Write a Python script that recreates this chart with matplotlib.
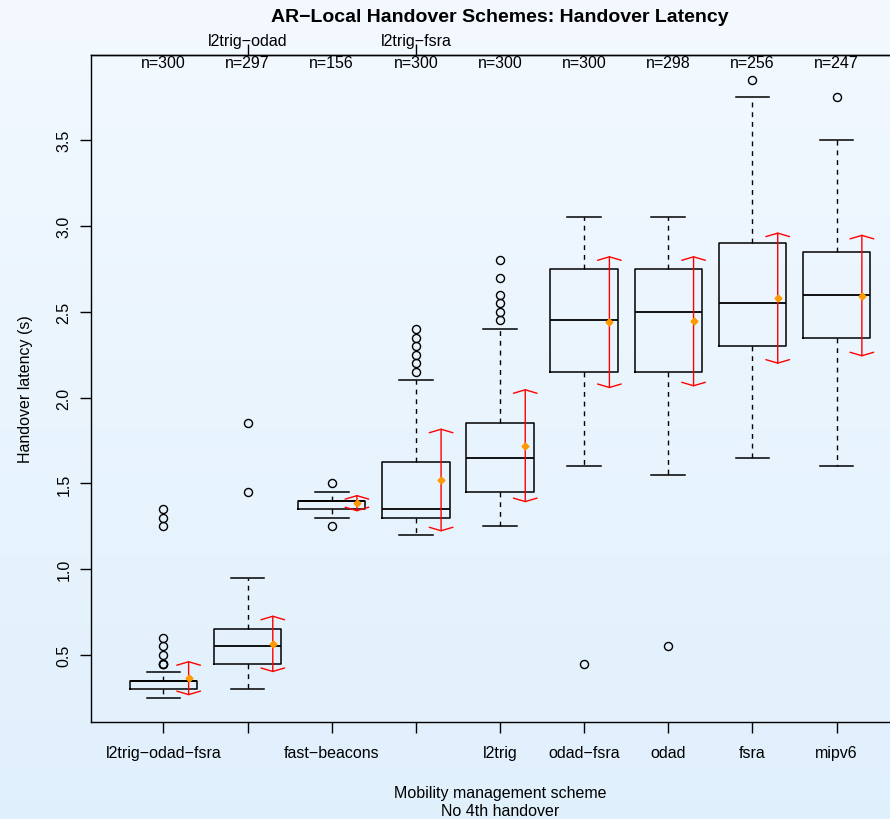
import matplotlib
matplotlib.use("Agg")
import matplotlib.pyplot as plt
import numpy as np

plt.rcParams['font.family'] = ['Liberation Sans', 'DejaVu Sans']

# handover schemes, in plot order
schemes = ["l2trig-odad-fsra", "l2trig-odad", "fast-beacons", "l2trig-fsra",
           "l2trig", "odad-fsra", "odad", "fsra", "mipv6"]
n_obs = [300, 297, 156, 300, 300, 300, 298, 256, 247]

# box statistics (seconds)
whislo = [0.25, 0.30, 1.30, 1.20, 1.25, 1.60, 1.55, 1.65, 1.60]
q1 = [0.30, 0.45, 1.35, 1.30, 1.45, 2.15, 2.15, 2.30, 2.35]
median = [0.35, 0.55, 1.40, 1.35, 1.65, 2.45, 2.50, 2.55, 2.60]
q3 = [0.35, 0.65, 1.40, 1.625, 1.85, 2.75, 2.75, 2.90, 2.85]
whishi = [0.40, 0.95, 1.45, 2.10, 2.40, 3.05, 3.05, 3.75, 3.50]
outliers = [
    [0.45, 0.45, 0.45, 0.50, 0.55, 0.60, 1.25, 1.30, 1.35],
    [1.45, 1.85],
    [1.25, 1.50],
    [2.15, 2.20, 2.25, 2.30, 2.35, 2.40],
    [2.45, 2.50, 2.55, 2.60, 2.70, 2.80],
    [0.45],
    [0.55],
    [3.85],
    [3.75],
]

# mean and standard deviation (red bars)
means = [0.365, 0.565, 1.385, 1.52, 1.72, 2.44, 2.445, 2.58, 2.595]
sds = [0.10, 0.165, 0.048, 0.30, 0.33, 0.385, 0.38, 0.383, 0.355]

# labels shown on the bottom / top axes
bottom_shown = [0, 2, 4, 5, 6, 7, 8]
top_shown = [1, 3]


def pretty(s):
    return s.replace("-", "\u2212")


fig = plt.figure(figsize=(8.9, 8.2), dpi=100)

# light blue gradient background
bg = fig.add_axes([0, 0, 1, 1], zorder=-10)
grad = np.linspace(0, 1, 256).reshape(-1, 1)
top_c = np.array([0.953, 0.976, 1.0])
bot_c = np.array([0.878, 0.941, 0.988])
img = top_c + (bot_c - top_c) * grad[:, :, None]
bg.imshow(img, aspect='auto', extent=[0, 1, 0, 1], origin='upper')
bg.set_axis_off()

ax = fig.add_axes([91 / 890, 97.5 / 820, 818 / 890, 666.5 / 820])
ax.patch.set_alpha(0)

pos = np.arange(1, len(schemes) + 1)
stats = []
for i in range(len(schemes)):
    stats.append(dict(whislo=whislo[i], q1=q1[i], med=median[i], q3=q3[i],
                      whishi=whishi[i], fliers=outliers[i], label=schemes[i]))

ax.bxp(stats, positions=pos, widths=0.8, showfliers=True,
       boxprops=dict(color='black', lw=1.1),
       medianprops=dict(color='black', lw=1.3),
       whiskerprops=dict(color='black', lw=1.0, linestyle=(0, (3.5, 3.5))),
       capprops=dict(color='black', lw=1.1),
       capwidths=0.4,
       flierprops=dict(marker='o', markerfacecolor='none', markeredgecolor='black',
                       markersize=5.8, markeredgewidth=1.0))

# mean +/- sd bars, shifted right of each box
offset = 0.3
for i in range(len(schemes)):
    x = pos[i] + offset
    ax.annotate('', xy=(x, means[i] + sds[i]), xytext=(x, means[i] - sds[i]),
                arrowprops=dict(arrowstyle='<->,head_length=0.25,head_width=0.85',
                                color='red', lw=1.0, shrinkA=0, shrinkB=0))
ax.plot(pos + offset, means, linestyle='none', marker='D', markersize=3.5,
        color='#ff9900', zorder=5)

for i in range(len(schemes)):
    ax.text(pos[i], 0.988, "n=%d" % n_obs[i], transform=ax.get_xaxis_transform(),
            ha='center', va='center', fontsize=11.5)

ax.set_xlim(0.14, 9.86)
ax.set_ylim(0.1125, 3.997)
ax.set_xticks(pos)
ax.set_xticklabels([pretty(schemes[i]) if i in bottom_shown else '' for i in range(len(schemes))])
ax.set_yticks([0.5, 1.0, 1.5, 2.0, 2.5, 3.0, 3.5])
ax.set_yticklabels(["0.5", "1.0", "1.5", "2.0", "2.5", "3.0", "3.5"], rotation=90, va='center')
ax.tick_params(axis='x', length=8, width=1, pad=9, labelsize=11.5)
ax.tick_params(axis='y', length=8, width=1, pad=6, labelsize=11.5)

top = ax.secondary_xaxis('top')
top.set_xticks([pos[i] for i in top_shown])
top.set_xticklabels([pretty(schemes[i]) for i in top_shown])
top.tick_params(length=8, width=1, pad=-3, labelsize=11.5)

for s in ax.spines.values():
    s.set_linewidth(1.0)
top.spines['top'].set_linewidth(1.0)

ax.set_ylabel("Handover latency (s)", fontsize=11.5, labelpad=17)
ax.set_xlabel("Mobility management scheme\nNo 4th handover", fontsize=11.5,
              labelpad=18, linespacing=1.2)
fig.text(500 / 890, 1 - 18 / 820, pretty("AR-Local Handover Schemes: Handover Latency"),
         ha='center', va='center', fontsize=14, fontweight='bold')

fig.savefig("out.png", dpi=100)
